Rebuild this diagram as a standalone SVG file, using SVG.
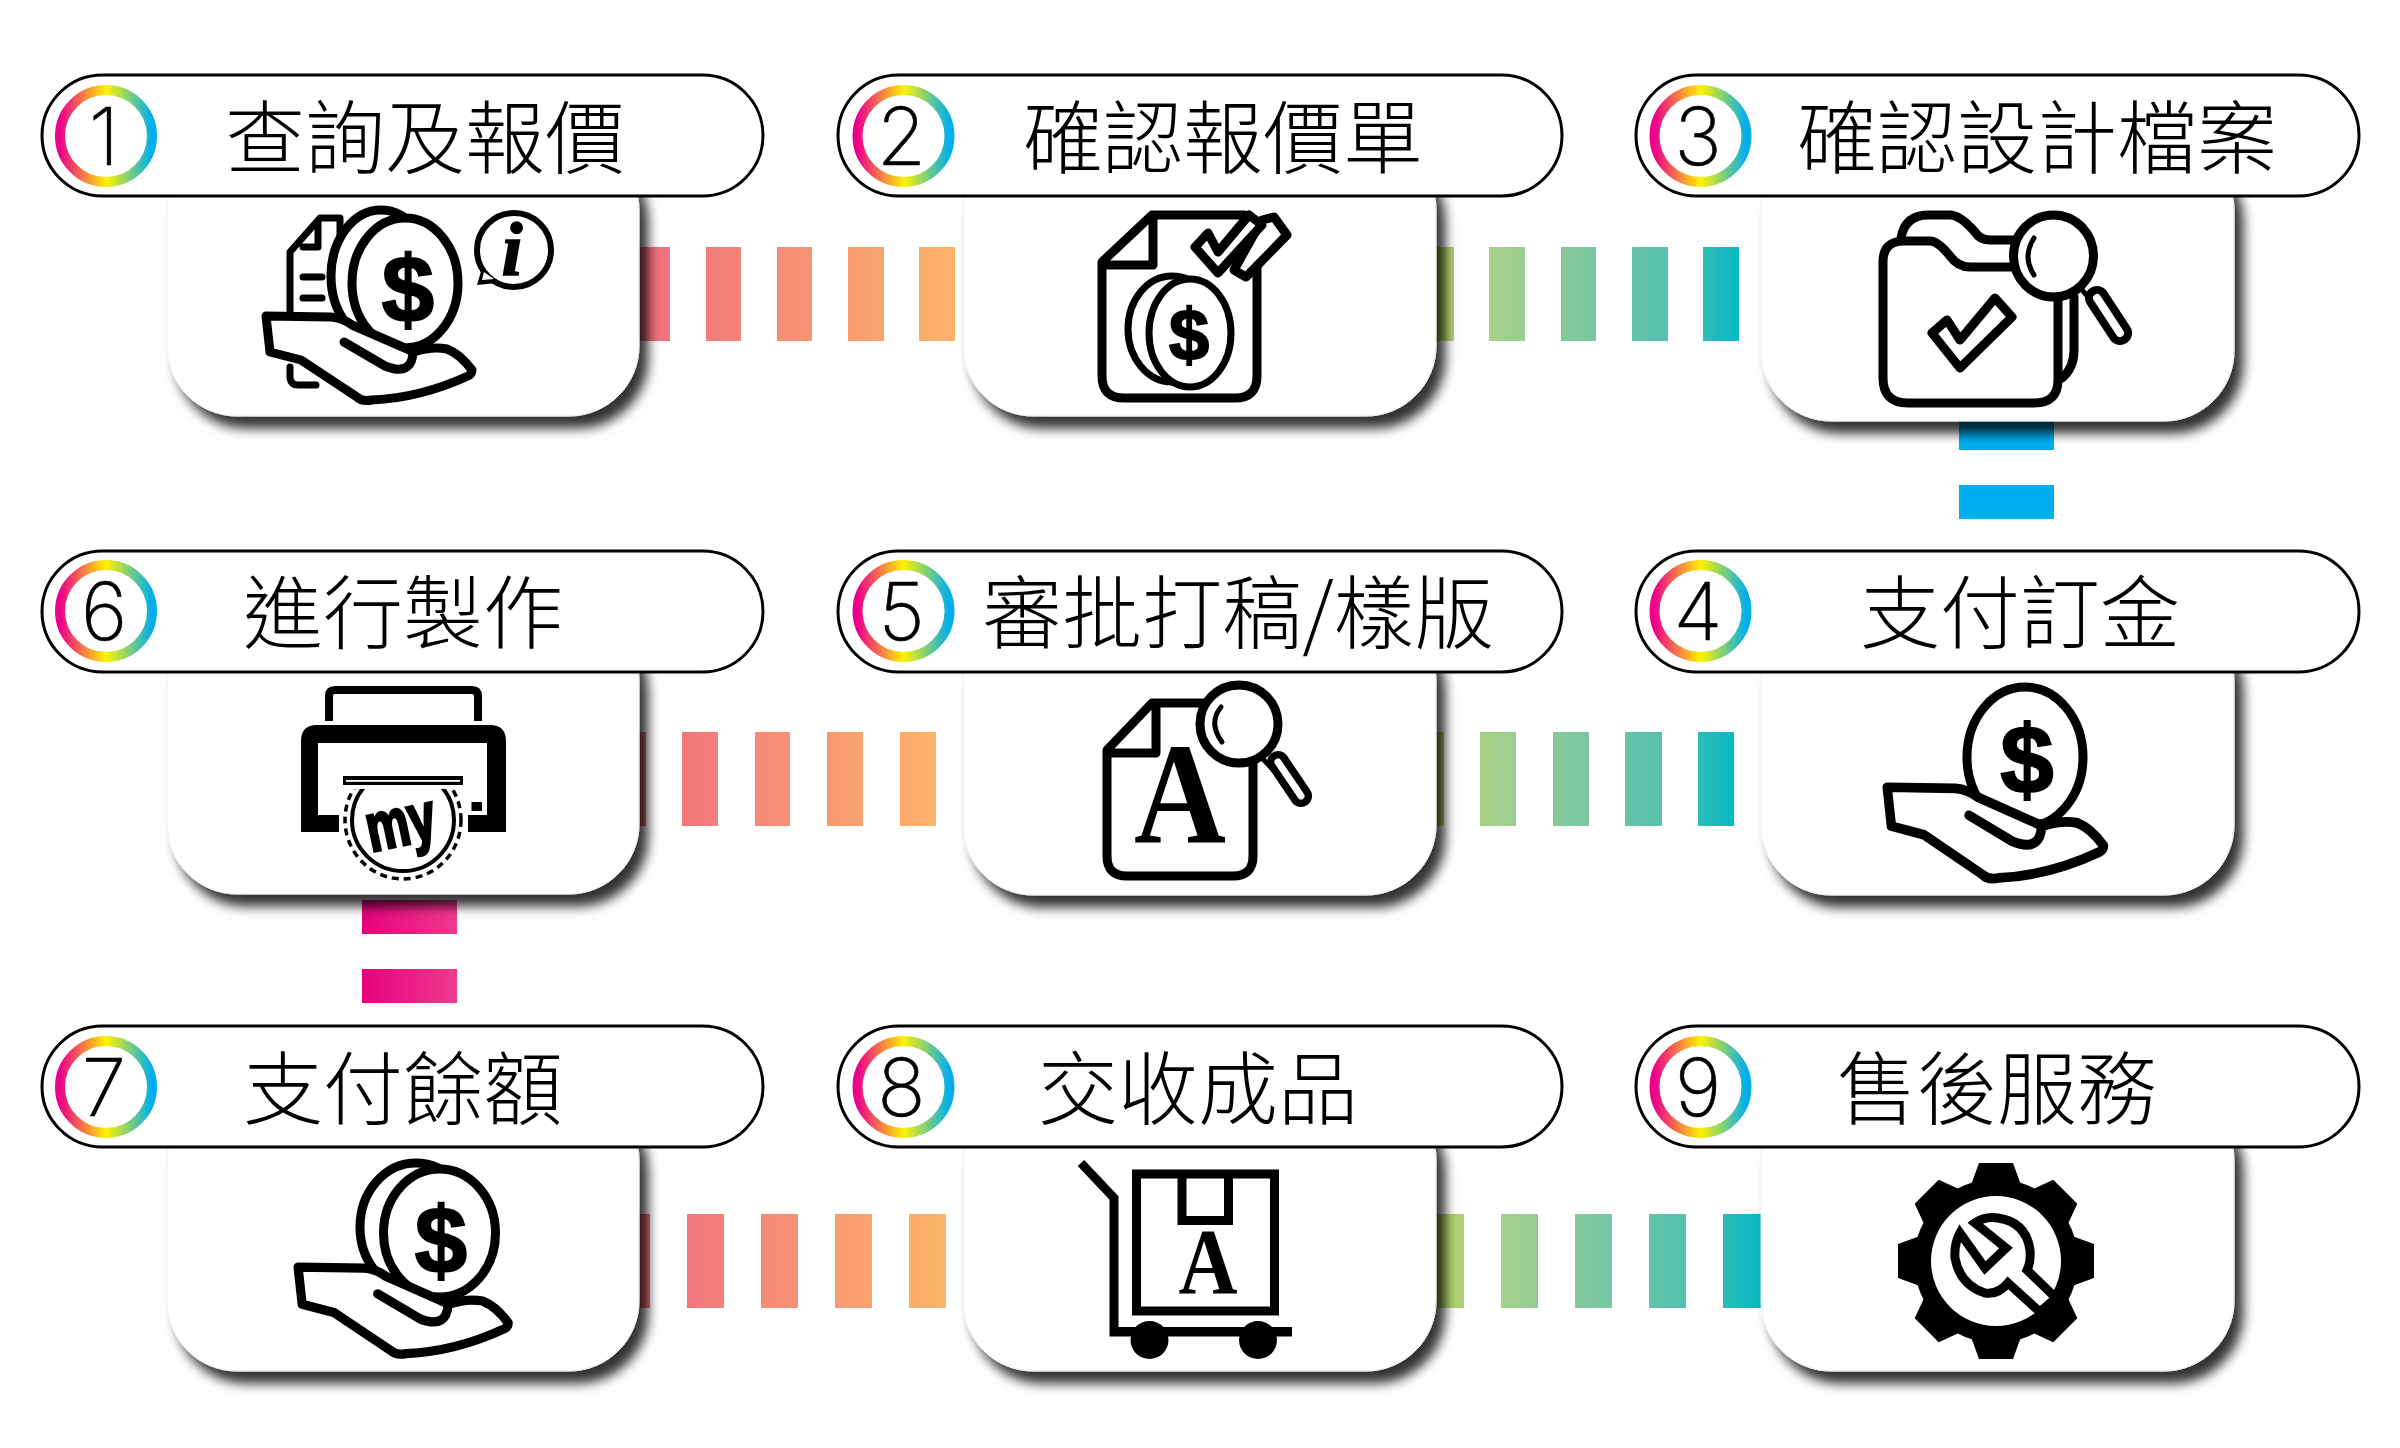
<svg xmlns="http://www.w3.org/2000/svg" width="2400" height="1448" viewBox="0 0 2400 1448">
<style>
.pill{fill:#fff;stroke:#000;stroke-width:3}
.card{fill:#fff;stroke:#efefef;stroke-width:1;filter:url(#sh)}
.ring{fill:none;stroke:url(#rg);stroke-width:10}
.lbl{font-family:"Noto Sans CJK TC","Noto Sans CJK SC",sans-serif;font-weight:300;font-size:80px;text-anchor:middle;fill:#000}
.num{font-family:Inter,"Liberation Sans",sans-serif;font-weight:200;font-size:80px;text-anchor:middle;fill:#000;stroke:#000;stroke-width:.6}
.o{fill:#fff;stroke:#000;stroke-width:9;stroke-linejoin:round;stroke-linecap:round}
.l{fill:none;stroke:#000;stroke-width:9;stroke-linejoin:round;stroke-linecap:round}
.d{font-family:"Liberation Sans",Arial,sans-serif;font-weight:700;text-anchor:middle;fill:#000;stroke:#000;stroke-width:2}
.a{font-family:"Liberation Serif","Times New Roman",serif;font-weight:700;text-anchor:middle;fill:#000}
</style>
<defs>
<filter id="sh" x="-10%" y="-10%" width="125%" height="130%"><feDropShadow dx="9" dy="12" stdDeviation="6" flood-color="#000" flood-opacity=".8"/></filter>
<linearGradient id="rg"><stop offset="0" stop-color="#ec008c"/><stop offset=".5" stop-color="#fff200"/><stop offset="1" stop-color="#00aeef"/></linearGradient>
<linearGradient id="w1" gradientUnits="userSpaceOnUse" x1="640" x2="955" y1="0" y2="0"><stop offset="0" stop-color="#f16d80"/><stop offset="1" stop-color="#fcb468"/></linearGradient>
<linearGradient id="w2" href="#w1" gradientUnits="userSpaceOnUse" x1="640" x2="936" y1="0" y2="0"/>
<linearGradient id="w3" href="#w1" gradientUnits="userSpaceOnUse" x1="640" x2="946" y1="0" y2="0"/>
<linearGradient id="c1" gradientUnits="userSpaceOnUse" x1="1440" x2="1740" y1="0" y2="0"><stop offset="0" stop-color="#b7d267"/><stop offset=".2" stop-color="#a3d08b"/><stop offset=".5" stop-color="#79c7a0"/><stop offset=".75" stop-color="#58c1ae"/><stop offset="1" stop-color="#06b8c2"/></linearGradient>
<linearGradient id="c2" href="#c1" gradientUnits="userSpaceOnUse" x1="1436" x2="1734" y1="0" y2="0"/>
<linearGradient id="c3" href="#c1" gradientUnits="userSpaceOnUse" x1="1436" x2="1760" y1="0" y2="0"/>
<linearGradient id="pk"><stop offset="0" stop-color="#e6007e"/><stop offset="1" stop-color="#ef3b8c"/></linearGradient>
<g id="hand">
<path class="o" d="M266 316L331 317Q343 318 352 325L414 352Q432 346 447 349Q460 354 472 370Q472 374 468 376Q420 398 372 400Q362 402 357 397L301 360L270 352Z"/>
<path class="l" d="M344 342L385 366Q405 374 411 362Q414 354 412 350"/>
</g>
<path id="tooth" d="M-17 -98L17 -98L25 -76L-25 -76Z"/>
<clipPath id="slotclip"><rect x="330" y="789" width="150" height="100"/></clipPath>
</defs>

<g id="connectors">
<g fill="url(#w1)"><rect x="635" y="247" width="35" height="94"/><rect x="706" y="247" width="35" height="94"/><rect x="777" y="247" width="35" height="94"/><rect x="848" y="247" width="36" height="94"/><rect x="919" y="247" width="36" height="94"/></g>
<g fill="url(#c1)"><rect x="1418" y="247" width="36" height="94"/><rect x="1489" y="247" width="36" height="94"/><rect x="1561" y="247" width="35" height="94"/><rect x="1632" y="247" width="36" height="94"/><rect x="1703" y="247" width="36" height="94"/></g>
<g fill="#00aeef"><rect x="1959" y="400" width="95" height="50"/><rect x="1959" y="485" width="95" height="34"/></g>
<g fill="url(#w2)"><rect x="610" y="732" width="36" height="94"/><rect x="682" y="732" width="36" height="94"/><rect x="755" y="732" width="35" height="94"/><rect x="827" y="732" width="36" height="94"/><rect x="900" y="732" width="36" height="94"/></g>
<g fill="url(#c2)"><rect x="1408" y="732" width="36" height="94"/><rect x="1480" y="732" width="36" height="94"/><rect x="1553" y="732" width="36" height="94"/><rect x="1625" y="732" width="37" height="94"/><rect x="1698" y="732" width="36" height="94"/></g>
<g fill="url(#pk)"><rect x="362" y="900" width="95" height="34"/><rect x="362" y="969" width="95" height="34"/></g>
<g fill="url(#w3)"><rect x="613" y="1214" width="37" height="94"/><rect x="687" y="1214" width="37" height="94"/><rect x="761" y="1214" width="37" height="94"/><rect x="835" y="1214" width="37" height="94"/><rect x="909" y="1214" width="37" height="94"/></g>
<g fill="url(#c3)"><rect x="1428" y="1214" width="36" height="94"/><rect x="1501" y="1214" width="37" height="94"/><rect x="1575" y="1214" width="37" height="94"/><rect x="1649" y="1214" width="37" height="94"/><rect x="1723" y="1214" width="38" height="94"/></g>
</g>

<g id="node1">
<rect class="card" x="167" y="140" width="472" height="276" rx="70"/>
<path class="l" style="stroke-width:7" d="M290 367V378Q291 385 298 385H316"/>
<path class="o" d="M320 218L290 252V320H340V218Z" style="stroke-width:7"/>
<path class="l" style="stroke-width:7" d="M303 247H318V222M303 277H322M303 298H322"/>
<ellipse class="o" cx="381" cy="276" rx="50" ry="66"/>
<ellipse class="o" cx="405" cy="283" rx="53" ry="65"/>
<text class="d" x="408" y="322" font-size="94">$</text>
<use href="#hand"/>
<ellipse class="o" cx="514" cy="250" rx="37" ry="37" style="stroke-width:6"/>
<path d="M482 268L477 285L497 283Z" fill="#000"/>
<path d="M484 272L482 280L494 279Z" fill="#fff"/>
<text class="a" x="512" y="275" font-size="76" font-style="italic" stroke="#000" stroke-width="1.500">i</text>
<rect class="pill" x="42" y="75" width="721" height="121" rx="60.500"/>
<circle class="ring" cx="106" cy="136" r="46"/>
<text class="num" x="104" y="165">1</text>
<text class="lbl" x="425" y="167">查詢及報價</text>
</g>

<g id="node2">
<rect class="card" x="963" y="140" width="473" height="276" rx="70"/>
<path class="o" d="M1102 262L1152 215H1244L1257 267V376Q1257 398 1235 398H1124Q1102 398 1102 376Z"/>
<path class="l" d="M1153 218V265H1106"/>
<path class="o" d="M1262 220L1274 217L1287 235L1246 277L1234 270Z"/>
<path class="o" d="M1208 233L1218 252L1249 215L1262 225L1218 273L1195 247Z"/>
<ellipse class="o" cx="1172" cy="329" rx="44" ry="53" style="stroke-width:7"/>
<ellipse class="o" cx="1190" cy="333" rx="41" ry="54" style="stroke-width:7"/>
<text class="d" x="1189" y="360" font-size="72">$</text>
<rect class="pill" x="838" y="75" width="724" height="121" rx="60.500"/>
<circle class="ring" cx="903.500" cy="136" r="46"/>
<text class="num" x="901.500" y="165">2</text>
<text class="lbl" x="1223" y="167">確認報價單</text>
</g>

<g id="node3">
<rect class="card" x="1761" y="140" width="473" height="281" rx="70"/>
<path class="l" d="M1901 238Q1905 215 1928 215H1950Q1960 215 1975 232Q1980 240 1990 240H2018"/>
<path class="l" d="M2074 297V350Q2074 368 2062 378"/>
<path class="o" d="M1883 262Q1883 241 1904 241H1930Q1938 241 1950 256Q1958 267 1970 267H2058V380Q2058 403 2034 403H1908Q1883 403 1883 378Z"/>
<path class="o" d="M1947 320L1932 333L1960 368L2012 317L1995 298L1960 340Z"/>
<ellipse class="o" cx="2053.500" cy="256" rx="40" ry="41"/>
<path class="l" style="stroke-width:5" d="M2034 238Q2022 257 2034 275"/>
<path class="l" style="stroke-width:5" d="M2082 290L2098 308"/>
<path d="M2097 298L2120 333" stroke="#000" stroke-width="24" stroke-linecap="round"/>
<path d="M2097 298L2120 333" stroke="#fff" stroke-width="8" stroke-linecap="round"/>
<rect class="pill" x="1636" y="75" width="723" height="121" rx="60.500"/>
<circle class="ring" cx="1700.500" cy="136" r="46"/>
<text class="num" x="1698" y="165">3</text>
<text class="lbl" x="2037" y="167">確認設計檔案</text>
</g>

<g id="node4">
<rect class="card" x="1761" y="610" width="473" height="285" rx="70"/>
<ellipse class="o" cx="2025" cy="757" rx="58" ry="70"/>
<text class="d" x="2027" y="793" font-size="96">$</text>
<g transform="translate(1883 784) scale(1.05 1.08) translate(-262 -313)"><use href="#hand"/></g>
<rect class="pill" x="1636" y="551" width="723" height="121" rx="60.500"/>
<circle class="ring" cx="1700.500" cy="611" r="46"/>
<text class="num" x="1698" y="640">4</text>
<text class="lbl" x="2020" y="642">支付訂金</text>
</g>

<g id="node5">
<rect class="card" x="963" y="610" width="473" height="285" rx="70"/>
<path class="o" d="M1107 750L1152 703H1240L1253 763V856Q1253 876 1233 876H1127Q1107 876 1107 856Z"/>
<path class="l" d="M1156 705V753H1111"/>
<text class="a" x="1180" y="843" font-size="144" textLength="92" lengthAdjust="spacingAndGlyphs">A</text>
<ellipse class="o" cx="1239" cy="724" rx="39" ry="39"/>
<path class="l" style="stroke-width:5" d="M1221 707Q1208 723 1222 742"/>
<path class="l" style="stroke-width:5" d="M1262 758L1278 775"/>
<path d="M1278 762L1301 796" stroke="#000" stroke-width="22" stroke-linecap="round"/>
<path d="M1278 762L1301 796" stroke="#fff" stroke-width="7" stroke-linecap="round"/>
<rect class="pill" x="838" y="551" width="724" height="121" rx="60.500"/>
<circle class="ring" cx="903.500" cy="611" r="46"/>
<text class="num" x="901.500" y="640">5</text>
<text class="lbl" x="1238" y="642">審批打稿/樣版</text>
</g>

<g id="node6">
<rect class="card" x="167" y="610" width="472" height="284" rx="70"/>
<path d="M329 721V696Q329 690 335 690H472Q478 690 478 696V721" fill="none" stroke="#000" stroke-width="8"/>
<path d="M301 832V741Q301 725 317 725H490Q506 725 506 741V832H468V815H487V743H318V815H339V832Z" fill="#000"/>
<rect x="471.500" y="802" width="10.500" height="9" fill="#000"/>
<g clip-path="url(#slotclip)">
<ellipse cx="403" cy="820" rx="58" ry="59" fill="#fff" stroke="#000" stroke-width="3.500" stroke-dasharray="7 5"/>
<ellipse cx="403" cy="820" rx="51" ry="51" fill="#fff" stroke="#000" stroke-width="4"/>
</g>
<rect x="343" y="776" width="120" height="9" fill="#000"/>
<rect x="346" y="780" width="114" height="1.800" fill="#fff"/>
<text class="a" x="402" y="845" font-size="68" style="font-family:'Liberation Sans',sans-serif;stroke:#000;stroke-width:3" transform="rotate(-12 402 830)" textLength="70" lengthAdjust="spacingAndGlyphs">my</text>
<rect class="pill" x="42" y="551" width="721" height="121" rx="60.500"/>
<circle class="ring" cx="106" cy="611" r="46"/>
<text class="num" x="104" y="640">6</text>
<text class="lbl" x="403" y="642">進行製作</text>
</g>

<g id="node7">
<rect class="card" x="167" y="1090" width="472" height="281" rx="70"/>
<ellipse class="o" cx="416" cy="1227" rx="56" ry="64"/>
<ellipse class="o" cx="439.500" cy="1233" rx="56" ry="64"/>
<text class="d" x="441" y="1273" font-size="94">$</text>
<g transform="translate(294 1264) scale(1.02 1.03) translate(-262 -313)"><use href="#hand"/></g>
<rect class="pill" x="42" y="1026" width="721" height="121" rx="60.500"/>
<circle class="ring" cx="106" cy="1087" r="46"/>
<text class="num" x="104" y="1116">7</text>
<text class="lbl" x="403" y="1118">支付餘額</text>
</g>

<g id="node8">
<rect class="card" x="963" y="1090" width="473" height="281" rx="70"/>
<path d="M1081 1163L1114 1198V1332H1292" fill="none" stroke="#000" stroke-width="9"/>
<rect x="1136.500" y="1174" width="138" height="137" fill="#fff" stroke="#000" stroke-width="9"/>
<path d="M1182 1174V1220.500H1228.500V1174" fill="none" stroke="#000" stroke-width="9"/>
<text class="a" x="1208" y="1293" font-size="94" textLength="59" lengthAdjust="spacingAndGlyphs">A</text>
<circle cx="1149.500" cy="1340" r="19" fill="#000"/>
<circle cx="1258" cy="1340" r="19" fill="#000"/>
<rect x="1110" y="1327" width="182" height="9" fill="#000"/>
<rect class="pill" x="838" y="1026" width="724" height="121" rx="60.500"/>
<circle class="ring" cx="903.500" cy="1087" r="46"/>
<text class="num" x="901.500" y="1116">8</text>
<text class="lbl" x="1198" y="1118">交收成品</text>
</g>

<g id="node9">
<rect class="card" x="1761" y="1090" width="473" height="281" rx="70"/>
<g transform="translate(1996 1261)">
<circle r="82" fill="#000"/>
<use href="#tooth"/><use href="#tooth" transform="rotate(45)"/><use href="#tooth" transform="rotate(90)"/><use href="#tooth" transform="rotate(135)"/><use href="#tooth" transform="rotate(180)"/><use href="#tooth" transform="rotate(225)"/><use href="#tooth" transform="rotate(270)"/><use href="#tooth" transform="rotate(315)"/>
<circle r="65" fill="#fff"/>
</g>
<path d="M1975 1223Q1985 1216 1998 1218Q2026 1222 2030 1250Q2031 1262 2027 1270L2056 1298L2040 1312L2008 1283Q1998 1295 1985 1293Q1960 1285 1955 1258Q1954 1244 1960 1233L1985 1268L2006 1248Z" fill="#fff" stroke="#000" stroke-width="9" stroke-linejoin="miter"/>
<rect class="pill" x="1636" y="1026" width="723" height="121" rx="60.500"/>
<circle class="ring" cx="1700.500" cy="1087" r="46"/>
<text class="num" x="1698" y="1116">9</text>
<text class="lbl" x="1997" y="1118">售後服務</text>
</g>
</svg>
